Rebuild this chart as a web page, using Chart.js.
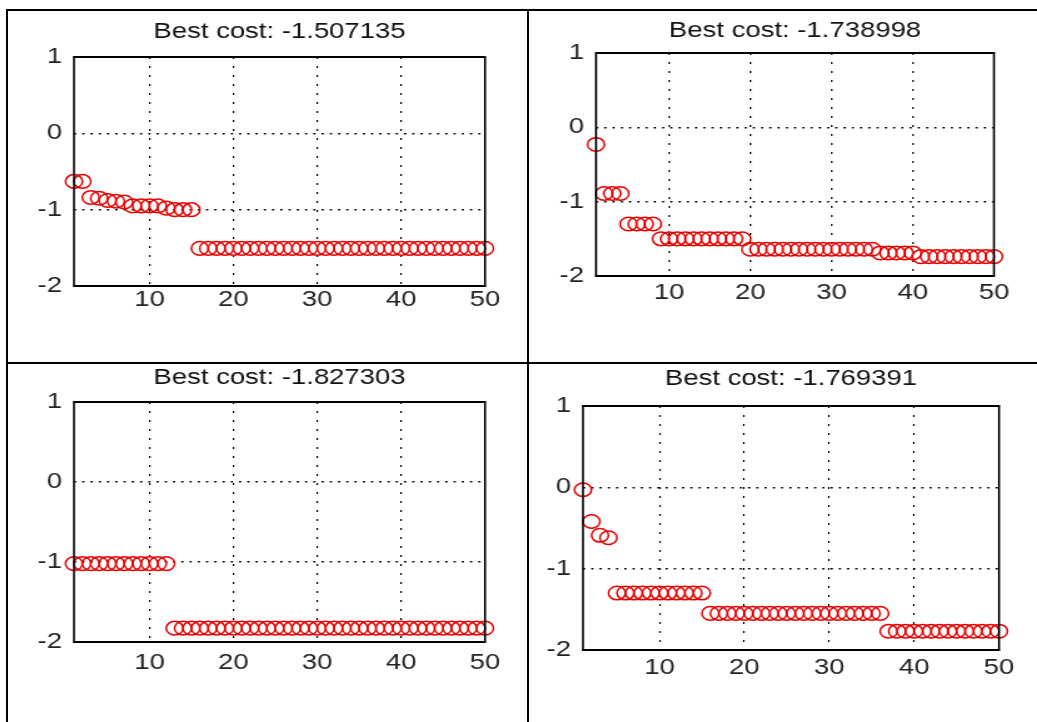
<!DOCTYPE html>
<html>
<head>
<meta charset="utf-8">
<script src="https://cdn.jsdelivr.net/npm/chart.js@4.4.1/dist/chart.umd.min.js"></script>
<style>
  html, body { margin: 0; padding: 0; background: #fff; }
  body { width: 1037px; height: 722px; position: relative; overflow: hidden; }
  .rule { position: absolute; background: #000; }
  .panel { position: absolute; }
  /* the source screenshot is stretched sideways, so the canvases are too */
  .panel canvas { display: block; transform: scaleX(1.25); transform-origin: 0 0; }
</style>
</head>
<body>
<div class="rule" style="left:6px;top:9px;width:2px;height:713px"></div>
<div class="rule" style="left:6px;top:9px;width:1031px;height:2px"></div>
<div class="rule" style="left:527px;top:9px;width:2px;height:713px"></div>
<div class="rule" style="left:6px;top:362px;width:1031px;height:2px"></div>

<div class="panel"><canvas id="chart1"></canvas></div>
<div class="panel"><canvas id="chart2"></canvas></div>
<div class="panel"><canvas id="chart3"></canvas></div>
<div class="panel"><canvas id="chart4"></canvas></div>

<script>
// iteration index on the x axis
const iterations = Array.from({ length: 50 }, (_, i) => i + 1);

const xTicks = [10, 20, 30, 40, 50];
const yTicks = [-2, -1, 0, 1];

const titles = [
    'Best cost: -1.507135',
    'Best cost: -1.738998',
    'Best cost: -1.827303',
    'Best cost: -1.769391'
];

const bestCost1 = [
    -0.63, -0.63, -0.84, -0.85, -0.88, -0.89, -0.90, -0.95, -0.95, -0.95,
    -0.95, -0.98, -1.00, -1.00, -1.00, -1.507, -1.507, -1.507, -1.507, -1.507,
    -1.507, -1.507, -1.507, -1.507, -1.507, -1.507, -1.507, -1.507, -1.507, -1.507,
    -1.507, -1.507, -1.507, -1.507, -1.507, -1.507, -1.507, -1.507, -1.507, -1.507,
    -1.507, -1.507, -1.507, -1.507, -1.507, -1.507, -1.507, -1.507, -1.507, -1.507
];

const bestCost2 = [
    -0.23, -0.89, -0.89, -0.89, -1.30, -1.30, -1.30, -1.30, -1.50, -1.50,
    -1.50, -1.50, -1.50, -1.50, -1.50, -1.50, -1.50, -1.50, -1.50, -1.64,
    -1.64, -1.64, -1.64, -1.64, -1.64, -1.64, -1.64, -1.64, -1.64, -1.64,
    -1.64, -1.64, -1.64, -1.64, -1.64, -1.69, -1.69, -1.69, -1.69, -1.69,
    -1.739, -1.739, -1.739, -1.739, -1.739, -1.739, -1.739, -1.739, -1.739, -1.739
];

const bestCost3 = [
    -1.02, -1.02, -1.02, -1.02, -1.02, -1.02, -1.02, -1.02, -1.02, -1.02,
    -1.02, -1.02, -1.827, -1.827, -1.827, -1.827, -1.827, -1.827, -1.827, -1.827,
    -1.827, -1.827, -1.827, -1.827, -1.827, -1.827, -1.827, -1.827, -1.827, -1.827,
    -1.827, -1.827, -1.827, -1.827, -1.827, -1.827, -1.827, -1.827, -1.827, -1.827,
    -1.827, -1.827, -1.827, -1.827, -1.827, -1.827, -1.827, -1.827, -1.827, -1.827
];

const bestCost4 = [
    -0.03, -0.42, -0.59, -0.62, -1.30, -1.30, -1.30, -1.30, -1.30, -1.30,
    -1.30, -1.30, -1.30, -1.30, -1.30, -1.55, -1.55, -1.55, -1.55, -1.55,
    -1.55, -1.55, -1.55, -1.55, -1.55, -1.55, -1.55, -1.55, -1.55, -1.55,
    -1.55, -1.55, -1.55, -1.55, -1.55, -1.55, -1.769, -1.769, -1.769, -1.769,
    -1.769, -1.769, -1.769, -1.769, -1.769, -1.769, -1.769, -1.769, -1.769, -1.769
];

const SX = 1.25;        // horizontal stretch of the canvases
const AXIS_W = 44;      // y axis width (canvas px)
const TITLE_H = 45;
const XAXIS_H = 40;
const PAD_R = 24;
const FONT = "'Liberation Sans', Arial, sans-serif";
const FONT_SIZE = 22;

// plot boxes in page pixels
const boxes = [
    { left: 74, right: 485, top: 57, bottom: 286, titleY: 32, labelY: 300 },
    { left: 596, right: 994, top: 53, bottom: 276, titleY: 30.5, labelY: 292.5 },
    { left: 74, right: 485, top: 402, bottom: 642, titleY: 377.5, labelY: 663 },
    { left: 583, right: 999, top: 406, bottom: 650, titleY: 379, labelY: 668 }
];

const boxPlugin = {
    id: 'box',
    afterDraw(chart) {
        const { ctx, chartArea: a } = chart;
        ctx.save();
        ctx.strokeStyle = '#000';
        ctx.lineWidth = 2;
        ctx.beginPath();
        ctx.moveTo(a.left - 0.8, a.top);
        ctx.lineTo(a.right + 0.8, a.top);
        ctx.moveTo(a.left - 0.8, a.bottom);
        ctx.lineTo(a.right + 0.8, a.bottom);
        ctx.stroke();
        ctx.lineWidth = 1.6;
        ctx.beginPath();
        ctx.moveTo(a.left, a.top);
        ctx.lineTo(a.left, a.bottom);
        ctx.moveTo(a.right, a.top);
        ctx.lineTo(a.right, a.bottom);
        ctx.stroke();
        ctx.restore();
    }
};

function makePanel(id, title, values, box) {
    const canvas = document.getElementById(id);
    const plotW = (box.right - box.left) / SX;
    const plotH = box.bottom - box.top;
    canvas.width = Math.ceil(AXIS_W + plotW + PAD_R);
    canvas.height = TITLE_H + plotH + XAXIS_H;
    const padRight = canvas.width - AXIS_W - plotW;

    const wrap = canvas.parentNode;
    wrap.style.left = (box.left - AXIS_W * SX) + 'px';
    wrap.style.top = (box.top - TITLE_H) + 'px';

    const lineH = FONT_SIZE * 1.2;
    const titleCentre = TITLE_H - (box.top - box.titleY);
    const titleTop = titleCentre - lineH / 2;
    const labelPad = Math.max(box.labelY - box.bottom - lineH / 2, 0);

    return new Chart(canvas, {
        type: 'scatter',
        data: {
            datasets: [{
                data: iterations.map((x, i) => ({ x, y: values[i] })),
                pointStyle: 'circle',
                pointRadius: 6.8,
                pointHoverRadius: 6.8,
                pointBorderWidth: 1.5,
                pointBorderColor: '#e60000',
                pointBackgroundColor: 'rgba(0,0,0,0)',
                showLine: false,
                clip: false
            }]
        },
        options: {
            responsive: false,
            animation: false,
            events: [],
            layout: { padding: { left: 0, right: padRight, top: 0, bottom: 0 } },
            plugins: {
                legend: { display: false },
                tooltip: { enabled: false },
                title: {
                    display: true,
                    text: title,
                    fullSize: false,
                    color: '#111',
                    font: { family: FONT, size: FONT_SIZE, weight: 'normal' },
                    padding: { top: titleTop, bottom: TITLE_H - lineH - titleTop }
                }
            },
            scales: {
                x: {
                    type: 'linear',
                    min: 1,
                    max: 50,
                    afterBuildTicks: s => { s.ticks = xTicks.map(v => ({ value: v })); },
                    afterFit: s => { s.height = XAXIS_H; },
                    grid: {
                        color: c => (c.tick && c.tick.value < 50 ? '#000' : 'rgba(0,0,0,0)'),
                        lineWidth: 1.2,
                        drawTicks: false
                    },
                    border: { display: false, dash: [2, 7] },
                    ticks: {
                        padding: labelPad,
                        color: '#222',
                        maxRotation: 0,
                        autoSkip: false,
                        font: { family: FONT, size: FONT_SIZE }
                    }
                },
                y: {
                    type: 'linear',
                    min: -2,
                    max: 1,
                    afterBuildTicks: s => { s.ticks = yTicks.map(v => ({ value: v })); },
                    afterFit: s => { s.width = AXIS_W; },
                    grid: {
                        color: c => (c.tick && (c.tick.value === 0 || c.tick.value === -1) ? '#000' : 'rgba(0,0,0,0)'),
                        lineWidth: 1.5,
                        drawTicks: false
                    },
                    border: { display: false, dash: [1.8, 4.8] },
                    ticks: {
                        padding: 9.6,
                        color: '#222',
                        font: { family: FONT, size: FONT_SIZE }
                    }
                }
            }
        },
        plugins: [boxPlugin]
    });
}

makePanel('chart1', titles[0], bestCost1, boxes[0]);
makePanel('chart2', titles[1], bestCost2, boxes[1]);
makePanel('chart3', titles[2], bestCost3, boxes[2]);
makePanel('chart4', titles[3], bestCost4, boxes[3]);
</script>
</body>
</html>
